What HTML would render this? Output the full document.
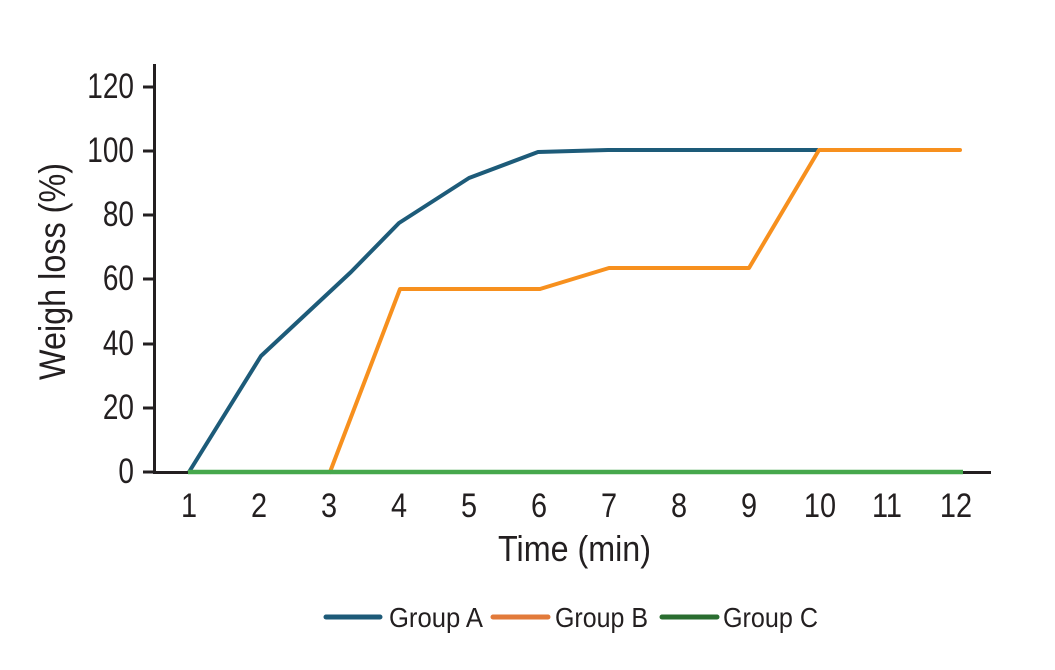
<!DOCTYPE html>
<html>
<head>
<meta charset="utf-8">
<style>
html,body{margin:0;padding:0;background:#fff;}
svg{display:block;}
text{font-family:"Liberation Sans",sans-serif;fill:#231f20;}
</style>
</head>
<body>
<svg width="1055" height="670" viewBox="0 0 1055 670" xmlns="http://www.w3.org/2000/svg">
<rect width="1055" height="670" fill="#fff"/>
<!-- axes -->
<line x1="154.5" y1="64" x2="154.5" y2="473.5" stroke="#231f20" stroke-width="3"/>
<line x1="153" y1="472.5" x2="991" y2="472.5" stroke="#231f20" stroke-width="3"/>
<!-- y ticks -->
<g stroke="#231f20" stroke-width="3">
<line x1="143" y1="87" x2="155" y2="87"/>
<line x1="143" y1="151" x2="155" y2="151"/>
<line x1="143" y1="215" x2="155" y2="215"/>
<line x1="143" y1="279" x2="155" y2="279"/>
<line x1="143" y1="344" x2="155" y2="344"/>
<line x1="143" y1="408" x2="155" y2="408"/>
<line x1="143" y1="472" x2="155" y2="472"/>
</g>
<g font-size="35" text-anchor="end">
<text transform="translate(134,98) scale(0.8,1)">120</text>
<text transform="translate(134,162) scale(0.8,1)">100</text>
<text transform="translate(134,226) scale(0.8,1)">80</text>
<text transform="translate(134,290) scale(0.8,1)">60</text>
<text transform="translate(134,355) scale(0.8,1)">40</text>
<text transform="translate(134,419) scale(0.8,1)">20</text>
<text transform="translate(134,483) scale(0.8,1)">0</text>
</g>
<g font-size="34" text-anchor="middle">
<text transform="translate(189,517) scale(0.85,1)">1</text>
<text transform="translate(259,517) scale(0.85,1)">2</text>
<text transform="translate(329,517) scale(0.85,1)">3</text>
<text transform="translate(399,517) scale(0.85,1)">4</text>
<text transform="translate(469,517) scale(0.85,1)">5</text>
<text transform="translate(539,517) scale(0.85,1)">6</text>
<text transform="translate(609,517) scale(0.85,1)">7</text>
<text transform="translate(679,517) scale(0.85,1)">8</text>
<text transform="translate(749,517) scale(0.85,1)">9</text>
<text transform="translate(820,517) scale(0.85,1)">10</text>
<text transform="translate(887,517) scale(0.85,1)">11</text>
<text transform="translate(956,517) scale(0.85,1)">12</text>
</g>
<text x="498" y="561" font-size="36" textLength="153" lengthAdjust="spacingAndGlyphs">Time (min)</text>
<text transform="translate(65,380) rotate(-90)" font-size="37" textLength="217" lengthAdjust="spacingAndGlyphs">Weigh loss (%)</text>
<!-- series -->
<polyline fill="none" stroke="#1d5b79" stroke-width="4" stroke-linejoin="round" points="189,472 261,356 351,272 399,223 469,178 538,152 608,150 818,150"/>
<polyline fill="none" stroke="#f7901e" stroke-width="4" stroke-linejoin="round" stroke-linecap="round" points="330,472 400,289 540,289 609,268 749,268 819,150 960,150"/>
<line x1="188" y1="472" x2="963" y2="472" stroke="#46a84c" stroke-width="4.5"/>
<!-- legend -->
<g stroke-width="5" stroke-linecap="round">
<line x1="326" y1="617" x2="380" y2="617" stroke="#1d5a78"/>
<line x1="493" y1="617" x2="548" y2="617" stroke="#e27a3a"/>
<line x1="662" y1="617" x2="717" y2="617" stroke="#2a6d30"/>
</g>
<g font-size="28">
<text x="389" y="627" textLength="94" lengthAdjust="spacingAndGlyphs">Group A</text>
<text x="555" y="627" textLength="93" lengthAdjust="spacingAndGlyphs">Group B</text>
<text x="723" y="627" textLength="95" lengthAdjust="spacingAndGlyphs">Group C</text>
</g>
</svg>
</body>
</html>
